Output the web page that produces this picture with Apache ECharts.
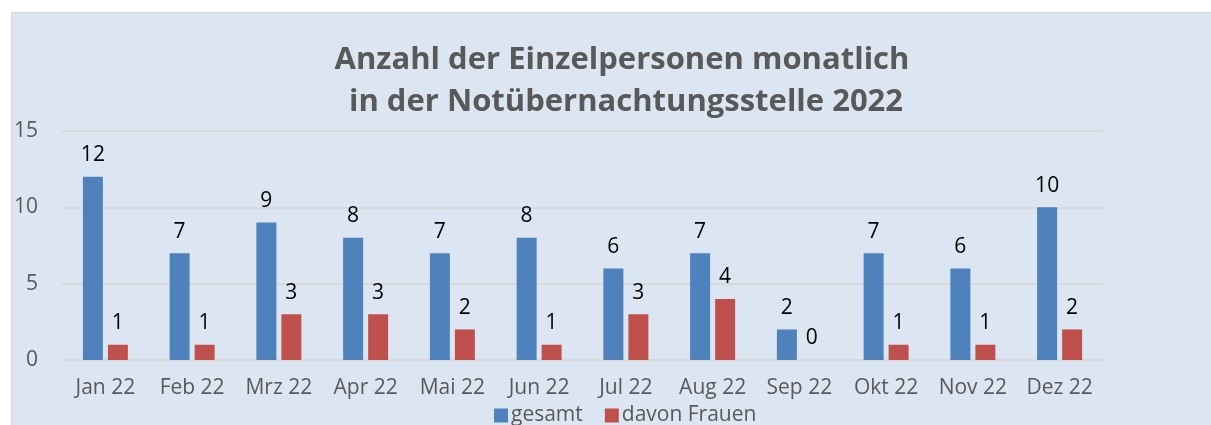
<!DOCTYPE html>
<html><head><meta charset="utf-8">
<script src="https://cdn.jsdelivr.net/npm/echarts@6/dist/echarts.min.js"></script>
<style>html,body{margin:0;padding:0;background:#fff}#c{width:1211px;height:425px}</style>
</head><body><div id="c"></div>
<script>
const categories = ['Jan 22','Feb 22','Mrz 22','Apr 22','Mai 22','Jun 22','Jul 22','Aug 22','Sep 22','Okt 22','Nov 22','Dez 22'];
const gesamt = [12,7,9,8,7,8,6,7,2,7,6,10];
const frauen = [1,1,3,3,2,1,3,4,0,1,1,2];
const seriesNames = ['gesamt','davon Frauen'];
const titleLines = ['Anzahl der Einzelpersonen monatlich',' in der Notübernachtungsstelle 2022'];

const font = '"Open Sans", sans-serif';
const chart = echarts.init(document.getElementById('c'), null, {renderer:'canvas'});
chart.setOption({
  animation:false,
  backgroundColor:'#ffffff',
  graphic:[{type:'rect',z:-10,silent:true,shape:{x:11.5,y:12.5,width:1210,height:420},
    style:{fill:'#dce6f2',stroke:'#d6d6d6',lineWidth:1}}],
  title:{text:titleLines.join('\n'),left:617,top:34,textAlign:'center',
    textStyle:{fontFamily:font,fontSize:31,fontWeight:'bold',color:'#595959',lineHeight:42}},
  grid:{left:62,right:108,top:131,bottom:65,containLabel:false},
  legend:{data:seriesNames,left:489,top:400,itemWidth:14,itemHeight:14,itemGap:22,icon:'rect',
    textStyle:{fontFamily:font,fontSize:21,color:'#595959',padding:[0,0,0,-2]}},
  xAxis:{type:'category',data:categories,
    axisLine:{show:true,lineStyle:{color:'#d9d9d9',width:2}},axisTick:{show:false},
    axisLabel:{interval:0,fontFamily:font,fontSize:21,color:'#595959',margin:18}},
  yAxis:{type:'value',min:0,max:15,interval:5,
    axisLine:{show:false},axisTick:{show:false},
    splitLine:{lineStyle:{color:'#d9d9d9',width:2}},
    axisLabel:{fontFamily:font,fontSize:21,color:'#595959',margin:24}},
  series:[
    {name:seriesNames[0],type:'bar',data:gesamt,barWidth:20,barGap:'25%',
     itemStyle:{color:'#4f81bd'},
     label:{show:true,position:'top',distance:11,fontFamily:font,fontSize:21,color:'#000'}},
    {name:seriesNames[1],type:'bar',data:frauen,barWidth:20,barGap:'25%',
     itemStyle:{color:'#c0504d'},
     label:{show:true,position:'top',distance:11,fontFamily:font,fontSize:21,color:'#000'}}
  ]
});
</script></body></html>
